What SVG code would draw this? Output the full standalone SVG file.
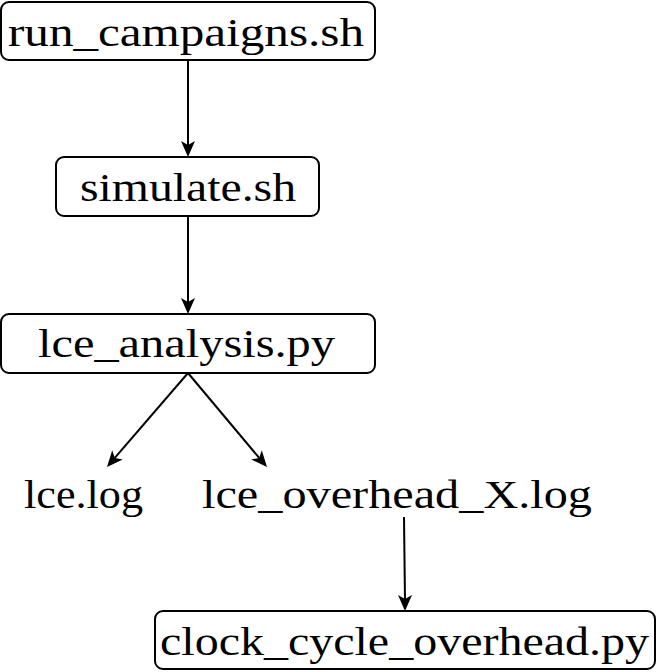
<svg xmlns="http://www.w3.org/2000/svg" width="658" height="672" viewBox="0 0 658 672">
<style>
.box{fill:#fff;stroke:#000;stroke-width:2}
.t{font-family:"Liberation Serif","Times New Roman",serif;font-size:41px;fill:#000}
.c{stroke:#000;stroke-width:2;fill:none}
.h{fill:#000;stroke:none}
</style>
<rect width="658" height="672" fill="#fff"/>
<g id="connectors">
<line class="c" x1="188" y1="60" x2="188" y2="147"/>
<polygon class="h" points="188,157 181,141 188,145 195,141"/>
<line class="c" x1="188" y1="216" x2="188" y2="304"/>
<polygon class="h" points="188,314 181,298 188,302 195,298"/>
<line class="c" x1="188" y1="373" x2="114.8" y2="457.9"/>
<polygon class="h" points="107,467 112.2,450.3 114.8,457.9 122.8,459.5"/>
<line class="c" x1="188" y1="373" x2="259.2" y2="457.9"/>
<polygon class="h" points="267,467 251.2,459.5 259.2,457.9 261.8,450.3"/>
<line class="c" x1="404" y1="517" x2="405" y2="601"/>
<polygon class="h" points="405,611 398,595 405,599 412,595"/>
</g>
<g id="run_campaigns">
<rect class="box" x="1" y="2" width="374" height="58" rx="8"/>
<text class="t" x="8" y="46" textLength="356" lengthAdjust="spacingAndGlyphs">run_campaigns.sh</text>
</g>
<g id="simulate">
<rect class="box" x="56" y="157" width="263" height="59" rx="8"/>
<text class="t" x="80" y="201" textLength="216" lengthAdjust="spacingAndGlyphs">simulate.sh</text>
</g>
<g id="lce_analysis">
<rect class="box" x="1" y="314" width="374" height="59" rx="8"/>
<text class="t" x="38" y="357" textLength="297" lengthAdjust="spacingAndGlyphs">lce_analysis.py</text>
</g>
<g id="lce_log">
<text class="t" x="24" y="508" textLength="119" lengthAdjust="spacingAndGlyphs">lce.log</text>
</g>
<g id="lce_overhead">
<text class="t" x="202" y="508" textLength="390" lengthAdjust="spacingAndGlyphs">lce_overhead_X.log</text>
</g>
<g id="clock_cycle">
<rect class="box" x="155" y="611" width="500" height="58" rx="8"/>
<text class="t" x="160" y="655" textLength="489" lengthAdjust="spacingAndGlyphs">clock_cycle_overhead.py</text>
</g>
</svg>
